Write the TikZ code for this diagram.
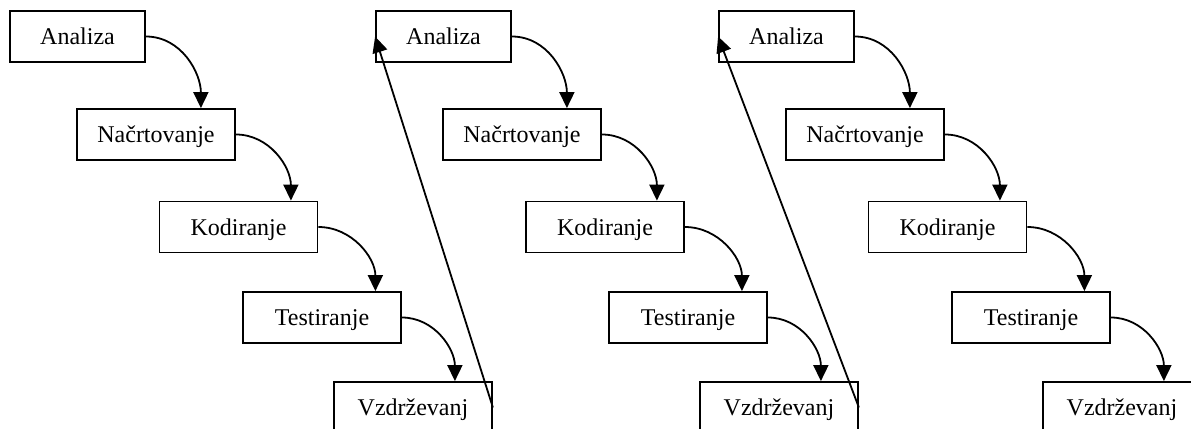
\documentclass[tikz,border=0pt]{standalone}
\usepackage{fontspec}
\setmainfont{Liberation Serif}
\usetikzlibrary{positioning, arrows.meta, calc}

\begin{document}
\begin{tikzpicture}[
    x=0.5pt, y=-0.5pt,
    faza/.style={rectangle, draw, line width=0.9pt, minimum width=79pt, minimum height=25.5pt,
        text height=8pt, text depth=0pt, font=\fontsize{12pt}{14pt}\selectfont},
    prva/.style={faza, minimum width=67.5pt},
    flow/.style={-{Triangle[length=8pt,width=7.5pt]}, line width=0.9pt, out=0, in=90},
    back/.style={-{Triangle[length=8pt,width=7.5pt]}, line width=0.9pt}
]

\clip (0,0) rectangle (1191,429);

% Prvi cikel
\node[prva] (a1) at (77.5, 36.5) {Analiza};
\node[faza] (n1) at (156, 134.5) {Načrtovanje};
\node[faza] (k1) at (238.5, 227) {Kodiranje};
\node[faza] (t1) at (322, 317.5) {Testiranje};
\node[faza] (v1) at (413, 407.5) {Vzdrževanj};

% Drugi cikel
\node[prva] (a2) at (443.5, 36.5) {Analiza};
\node[faza] (n2) at (522, 134.5) {Načrtovanje};
\node[faza] (k2) at (605, 227) {Kodiranje};
\node[faza] (t2) at (688, 317.5) {Testiranje};
\node[faza] (v2) at (779, 407.5) {Vzdrževanj};

% Tretji cikel
\node[prva] (a3) at (786.5, 36.5) {Analiza};
\node[faza] (n3) at (865, 134.5) {Načrtovanje};
\node[faza] (k3) at (947.5, 227) {Kodiranje};
\node[faza] (t3) at (1031, 317.5) {Testiranje};
\node[faza] (v3) at (1122, 407.5) {Vzdrževanj};

\draw[flow] (a1.east) to ($(a1.east |- n1.north)+(55,0)$);
\draw[flow] (n1.east) to ($(n1.east |- k1.north)+(55,0)$);
\draw[flow] (k1.east) to ($(k1.east |- t1.north)+(57,0)$);
\draw[flow] (t1.east) to ($(t1.east |- v1.north)+(53,0)$);

\draw[flow] (a2.east) to ($(a2.east |- n2.north)+(55,0)$);
\draw[flow] (n2.east) to ($(n2.east |- k2.north)+(55,0)$);
\draw[flow] (k2.east) to ($(k2.east |- t2.north)+(57,0)$);
\draw[flow] (t2.east) to ($(t2.east |- v2.north)+(53,0)$);

\draw[flow] (a3.east) to ($(a3.east |- n3.north)+(55,0)$);
\draw[flow] (n3.east) to ($(n3.east |- k3.north)+(55,0)$);
\draw[flow] (k3.east) to ($(k3.east |- t3.north)+(57,0)$);
\draw[flow] (t3.east) to ($(t3.east |- v3.north)+(53,0)$);

% Povratne puscice
\draw[back] (v1.east) -- (a2.west);
\draw[back] (v2.east) -- (a3.west);

\end{tikzpicture}
\end{document}
